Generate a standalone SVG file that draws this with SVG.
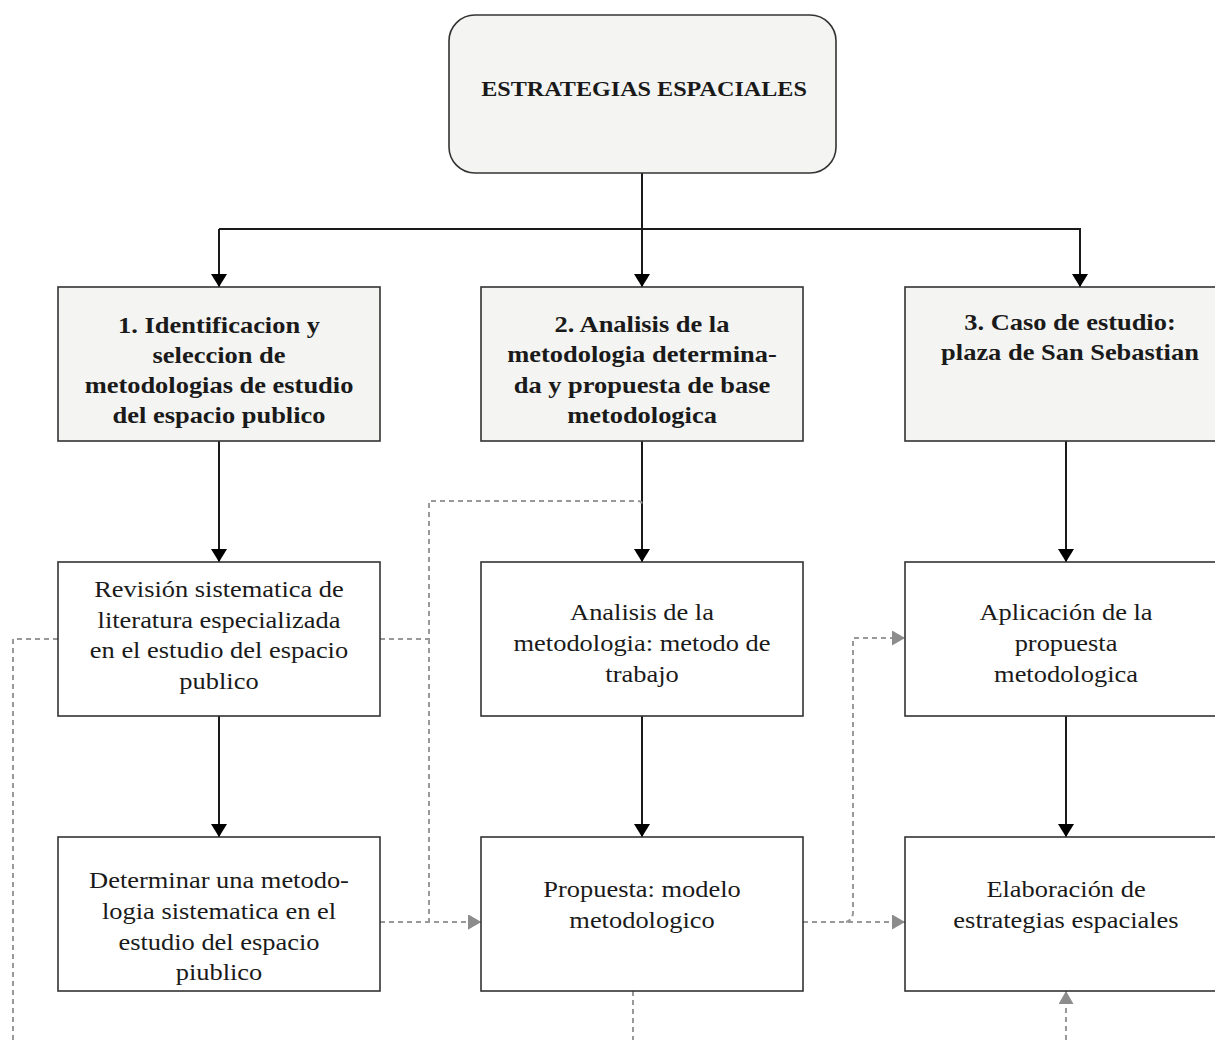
<svg xmlns="http://www.w3.org/2000/svg" width="1215" height="1040" viewBox="0 0 1215 1040">
<style>
.box{fill:#ffffff;stroke:#333333;stroke-width:1.6}
.hdr{fill:#f4f4f2;stroke:#333333;stroke-width:1.6}
.t{font-family:"Liberation Serif","Times New Roman",serif;font-size:23px;fill:#1a1a1a;text-anchor:middle}
.b{font-weight:bold}
.solid{fill:none;stroke:#1a1a1a;stroke-width:2}
.dash{fill:none;stroke:#999999;stroke-width:2;stroke-dasharray:5,4}
</style>
<defs>
<marker id="ah" viewBox="0 0 13 16" refX="13" refY="8" markerWidth="13" markerHeight="16" markerUnits="userSpaceOnUse" orient="auto">
<path d="M0,0 L13,8 L0,16 Z" fill="#000000"/>
</marker>
<marker id="ag" viewBox="0 0 13 15" refX="13" refY="7.5" markerWidth="13" markerHeight="15" markerUnits="userSpaceOnUse" orient="auto">
<path d="M0,0 L13,7.5 L0,15 Z" fill="#8c8c8c"/>
</marker>
</defs>

<g id="connectors">
<path class="solid" d="M642,173 V287" marker-end="url(#ah)"/>
<path class="solid" d="M219,229 H1080 V287" marker-end="url(#ah)"/>
<path class="solid" d="M219,229 V287" marker-end="url(#ah)"/>
<path class="solid" d="M219,441 V562" marker-end="url(#ah)"/>
<path class="solid" d="M219,716 V837" marker-end="url(#ah)"/>
<path class="solid" d="M642,441 V562" marker-end="url(#ah)"/>
<path class="solid" d="M642,716 V837" marker-end="url(#ah)"/>
<path class="solid" d="M1066,441 V562" marker-end="url(#ah)"/>
<path class="solid" d="M1066,716 V837" marker-end="url(#ah)"/>

<path class="dash" d="M380,639 H429 V501 H638 Q642,501 642,505"/>
<path class="dash" d="M429,639 V922 H481" marker-end="url(#ag)"/>
<path class="dash" d="M380,922 H481" marker-end="url(#ag)"/>
<path class="dash" d="M803,922 H905" marker-end="url(#ag)"/>
<path class="dash" d="M846,922 Q853,920 853,912 V638 H905" marker-end="url(#ag)"/>
<path class="dash" d="M58,639 H13 V1040"/>
<path class="dash" d="M633,991 V1040"/>
<path class="dash" d="M1066,1040 V991" marker-end="url(#ag)"/>
</g>

<g id="n0">
<rect class="hdr" x="449" y="15" width="387" height="158" rx="26"/>
<g transform="matrix(1.15 0 0 1 644 0)">
<text class="t b" x="0" y="96" style="font-size:21px">ESTRATEGIAS ESPACIALES</text>
</g>
</g>

<g id="n1">
<rect class="hdr" x="58" y="287" width="322" height="154"/>
<g transform="matrix(1.15 0 0 1 219 0)">
<text class="t b" x="0" y="333">1. Identificacion y</text>
<text class="t b" x="0" y="363">seleccion de</text>
<text class="t b" x="0" y="393">metodologias de estudio</text>
<text class="t b" x="0" y="423">del espacio publico</text>
</g>
</g>

<g id="n2">
<rect class="hdr" x="481" y="287" width="322" height="154"/>
<g transform="matrix(1.15 0 0 1 642 0)">
<text class="t b" x="0" y="332">2. Analisis de la</text>
<text class="t b" x="0" y="362">metodologia determina-</text>
<text class="t b" x="0" y="393">da y propuesta de base</text>
<text class="t b" x="0" y="423">metodologica</text>
</g>
</g>

<g id="n3">
<rect class="hdr" x="905" y="287" width="322" height="154"/>
<g transform="matrix(1.15 0 0 1 1070 0)">
<text class="t b" x="0" y="330">3. Caso de estudio:</text>
<text class="t b" x="0" y="360">plaza de San Sebastian</text>
</g>
</g>

<g id="n4">
<rect class="box" x="58" y="562" width="322" height="154"/>
<g transform="matrix(1.15 0 0 1 219 0)">
<text class="t" x="0" y="597">Revisión sistematica de</text>
<text class="t" x="0" y="628">literatura especializada</text>
<text class="t" x="0" y="658">en el estudio del espacio</text>
<text class="t" x="0" y="689">publico</text>
</g>
</g>

<g id="n5">
<rect class="box" x="481" y="562" width="322" height="154"/>
<g transform="matrix(1.15 0 0 1 642 0)">
<text class="t" x="0" y="620">Analisis de la</text>
<text class="t" x="0" y="651">metodologia: metodo de</text>
<text class="t" x="0" y="682">trabajo</text>
</g>
</g>

<g id="n6">
<rect class="box" x="905" y="562" width="322" height="154"/>
<g transform="matrix(1.15 0 0 1 1066 0)">
<text class="t" x="0" y="620">Aplicación de la</text>
<text class="t" x="0" y="651">propuesta</text>
<text class="t" x="0" y="682">metodologica</text>
</g>
</g>

<g id="n7">
<rect class="box" x="58" y="837" width="322" height="154"/>
<g transform="matrix(1.15 0 0 1 219 0)">
<text class="t" x="0" y="888">Determinar una metodo-</text>
<text class="t" x="0" y="919">logia sistematica en el</text>
<text class="t" x="0" y="950">estudio del espacio</text>
<text class="t" x="0" y="980">piublico</text>
</g>
</g>

<g id="n8">
<rect class="box" x="481" y="837" width="322" height="154"/>
<g transform="matrix(1.15 0 0 1 642 0)">
<text class="t" x="0" y="897">Propuesta: modelo</text>
<text class="t" x="0" y="928">metodologico</text>
</g>
</g>

<g id="n9">
<rect class="box" x="905" y="837" width="322" height="154"/>
<g transform="matrix(1.15 0 0 1 1066 0)">
<text class="t" x="0" y="897">Elaboración de</text>
<text class="t" x="0" y="928">estrategias espaciales</text>
</g>
</g>
</svg>
